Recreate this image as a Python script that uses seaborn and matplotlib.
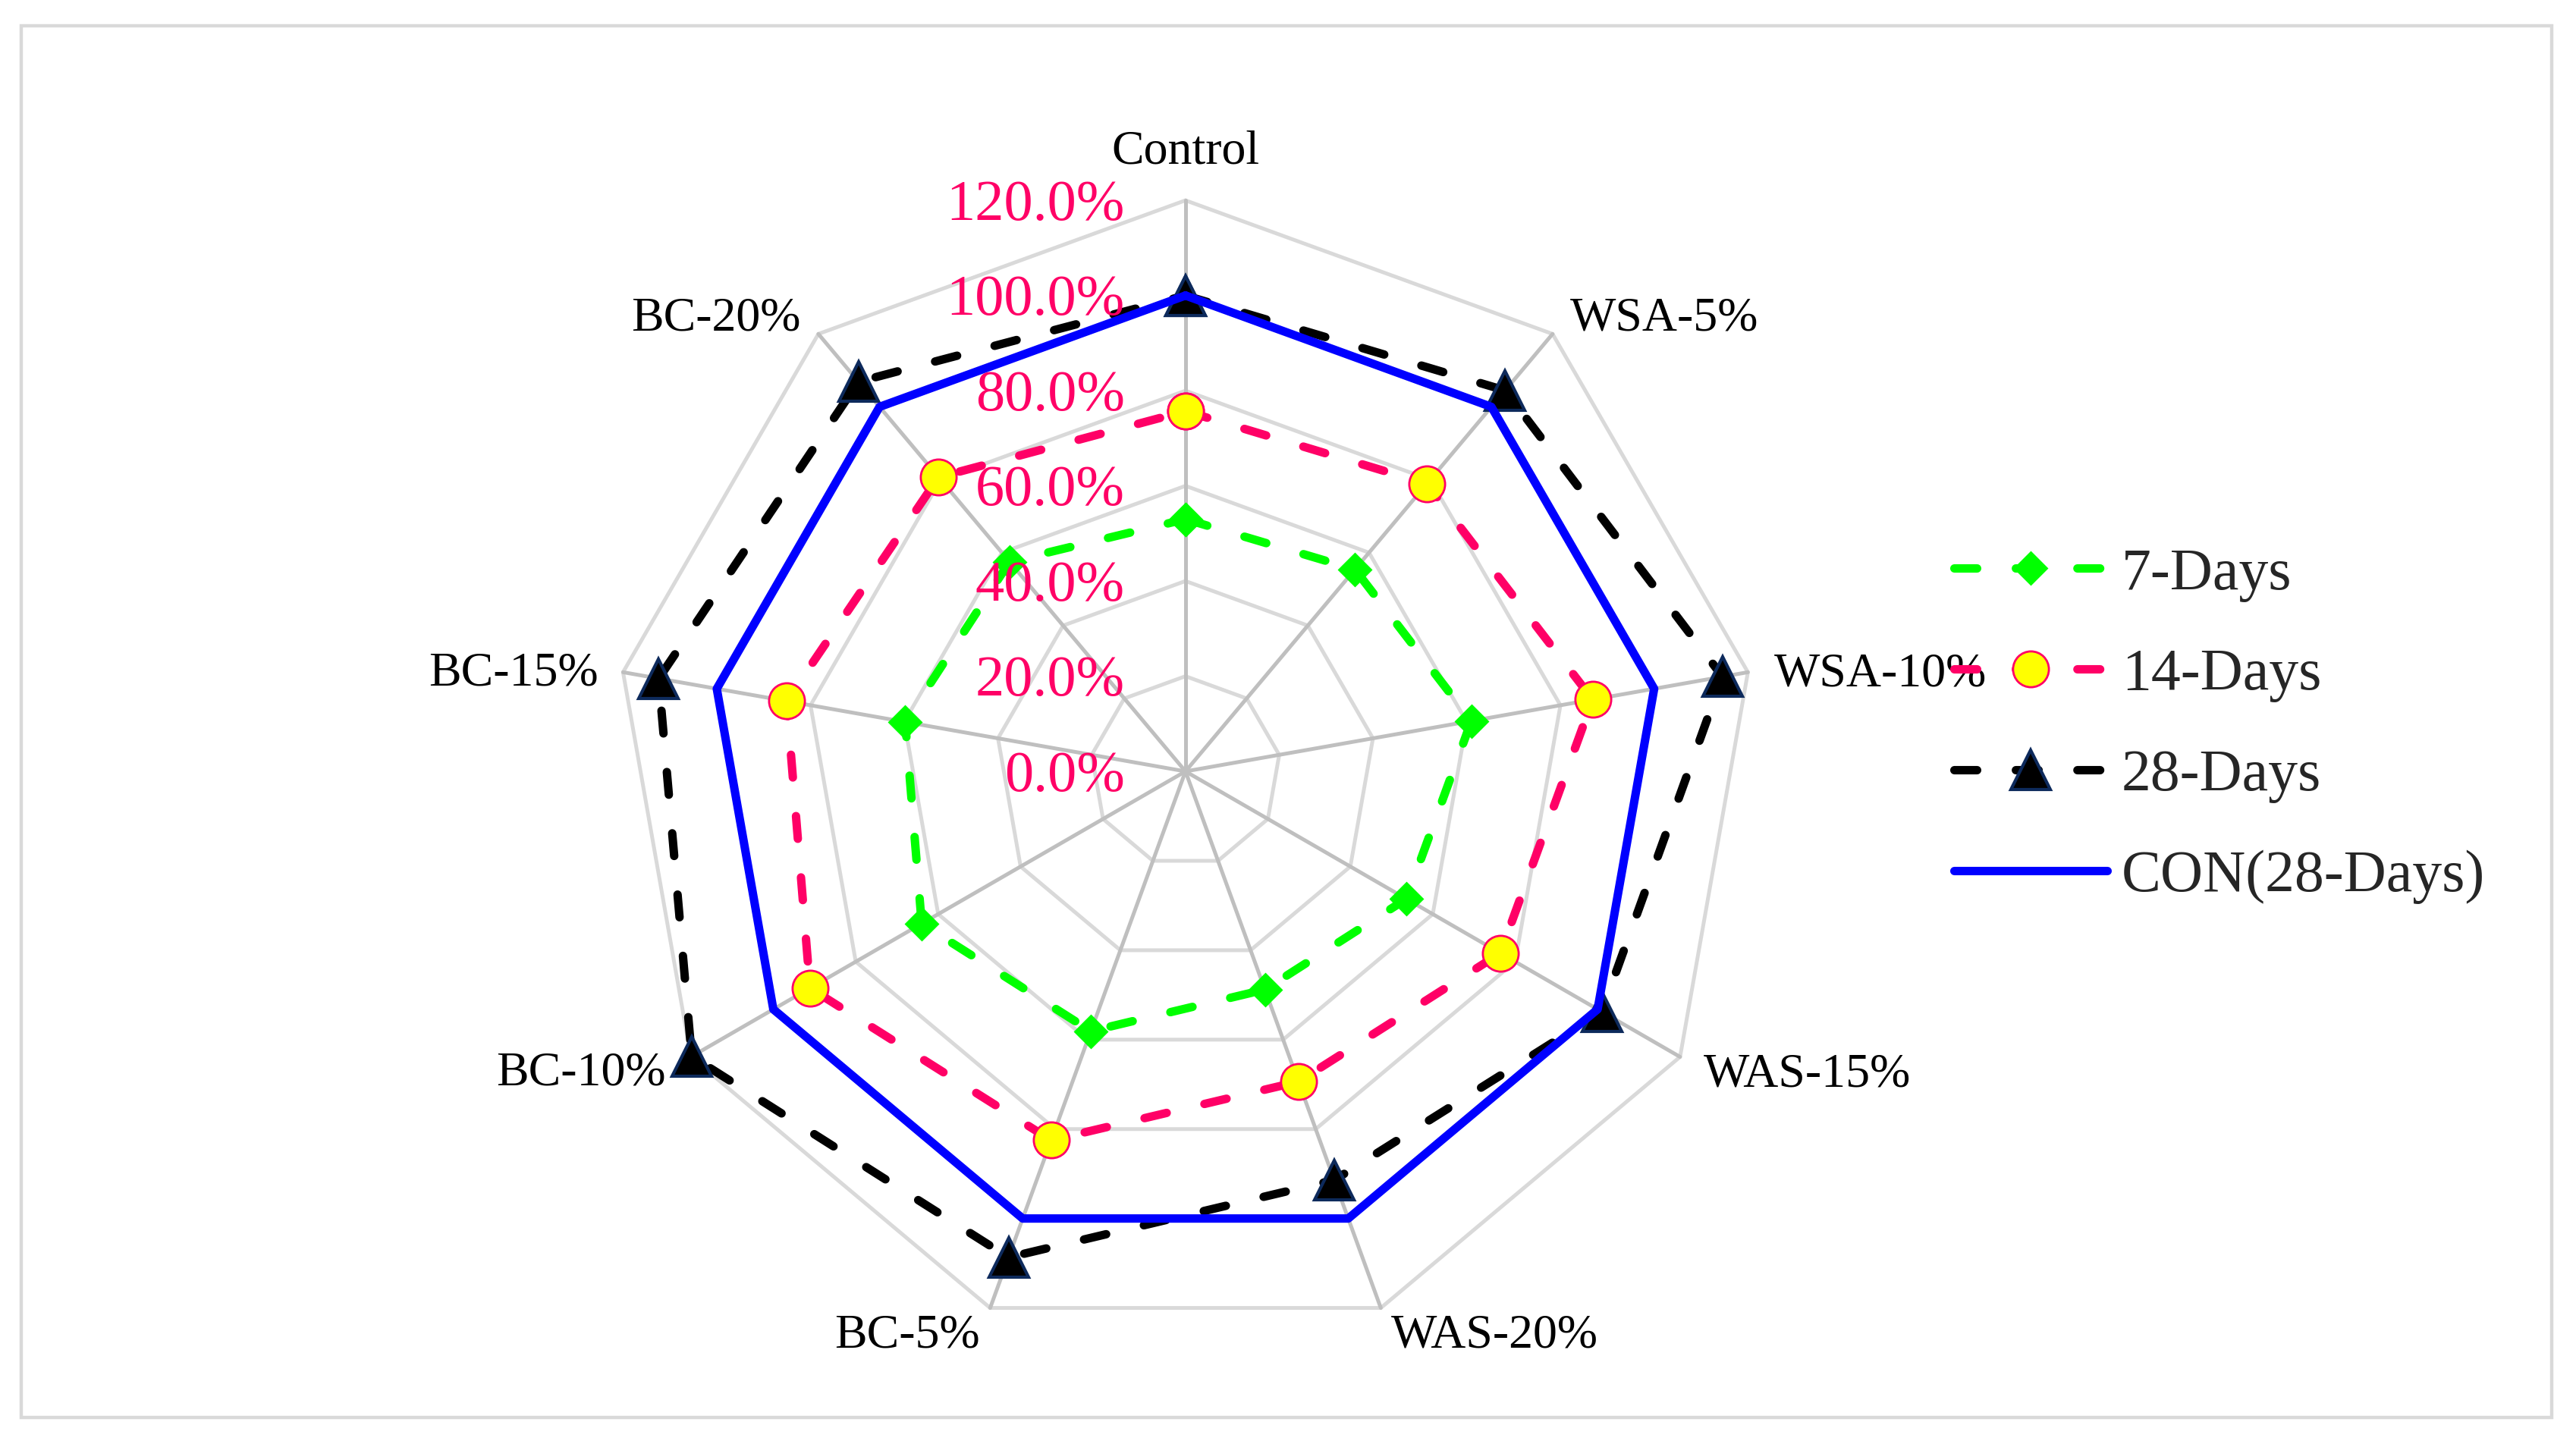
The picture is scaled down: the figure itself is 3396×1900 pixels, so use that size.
import numpy as np
import matplotlib
matplotlib.use('Agg')
import matplotlib.pyplot as plt
from matplotlib.patches import Rectangle
import seaborn as sns

# data (percent)
categories = ['Control', 'WSA-5%', 'WSA-10%', 'WAS-15%', 'WAS-20%',
              'BC-5%', 'BC-10%', 'BC-15%', 'BC-20%']
days7 = [53.0, 55.4, 61.0, 53.6, 48.8, 58.1, 64.0, 59.8, 57.5]
days14 = [75.7, 78.9, 86.9, 76.4, 69.4, 82.5, 91.1, 85.1, 80.7]
days28 = [100.0, 104.5, 114.6, 101.0, 91.4, 108.7, 119.8, 112.4, 106.9]
con28 = [100.0, 100.0, 100.0, 100.0, 100.0, 100.0, 100.0, 100.0, 100.0]
ticks = [0, 20, 40, 60, 80, 100, 120]
tick_labels = ['0.0%', '20.0%', '40.0%', '60.0%', '80.0%', '100.0%', '120.0%']

sns.set_theme(style='white')
plt.rcParams['font.family'] = ['Liberation Serif', 'DejaVu Serif']

PX = 72 / 200  # pixels -> points at dpi 200

fig = plt.figure(figsize=(16.98, 9.5), dpi=200)
ax = fig.add_axes([0.2385, 0.0684, 0.4434, 0.7926], projection='polar')
ax.set_theta_offset(np.pi / 2)
ax.set_theta_direction(-1)

n = len(categories)
angles = np.linspace(0, 2 * np.pi, n, endpoint=False)
closed = np.append(angles, 2 * np.pi)


def close(v):
    return list(v) + [v[0]]


# polygon web
for lvl in ticks[1:]:
    ax.plot(closed, [lvl] * (n + 1), color='#D9D9D9', lw=1.8, zorder=1, clip_on=False)
for a in angles:
    ax.plot([a, a], [0, 120], color='#BFBFBF', lw=1.8, zorder=1.5, clip_on=False)

dash = (0, (2.7, 4.6))
sns.lineplot(x=closed, y=close(days7), ax=ax, sort=False, estimator=None, legend=False,
             color='#00FF00', linewidth=4, linestyle=dash, dash_capstyle='round',
             marker='D', markersize=10.5, markerfacecolor='#00FF00',
             markeredgecolor='#00FF00', markeredgewidth=1, label='7-Days', clip_on=False)
sns.lineplot(x=closed, y=close(days14), ax=ax, sort=False, estimator=None, legend=False,
             color='#FF0066', linewidth=4, linestyle=dash, dash_capstyle='round',
             marker='o', markersize=17, markerfacecolor='#FFFF00',
             markeredgecolor='#FF0066', markeredgewidth=1, label='14-Days', clip_on=False)
sns.lineplot(x=closed, y=close(days28), ax=ax, sort=False, estimator=None, legend=False,
             color='black', linewidth=4, linestyle=dash, dash_capstyle='round',
             marker='^', markersize=19, markerfacecolor='black',
             markeredgecolor='#0D2A5C', markeredgewidth=1.5, label='28-Days', clip_on=False)
sns.lineplot(x=closed, y=close(con28), ax=ax, sort=False, estimator=None, legend=False,
             color='#0000FF', linewidth=4, label='CON(28-Days)', clip_on=False)

ax.set_ylim(0, 120)
ax.set_xticks([])
ax.set_yticks([])
ax.grid(False)
ax.spines['polar'].set_visible(False)
ax.set_xlabel('')
ax.set_ylabel('')

# radial tick labels along the Control spoke
for t, lab in zip(ticks, tick_labels):
    ax.annotate(lab, xy=(0, t), xytext=(-80 * PX, -7 * PX), textcoords='offset points',
                ha='right', va='center', color='#FF0066', fontsize=27.5,
                annotation_clip=False)

# category labels around the web
offsets = [(0, 64, 'center'), (23, 20, 'left'), (35, -3, 'left'), (31, -24, 'left'),
           (14, -37, 'left'), (-14, -37, 'right'), (-33, -22, 'right'),
           (-33, -2, 'right'), (-23, 20, 'right')]
for a, cat, (dx, dy, ha) in zip(angles, categories, offsets):
    ax.annotate(cat, xy=(a, 120), xytext=(dx * PX, dy * PX), textcoords='offset points',
                ha=ha, va='center', color='black', fontsize=23, annotation_clip=False)

handles, labels = ax.get_legend_handles_labels()
fig.legend(handles, labels, loc='upper left', bbox_to_anchor=(2576 / 3396, 1 - 722 / 1900),
           frameon=False, fontsize=28, handlelength=2.6, handletextpad=0.24,
           labelspacing=0.79, borderpad=0, borderaxespad=0)

fig.patches.append(Rectangle((28 / 3396, 1 - 1869 / 1900), 3336 / 3396, 1835 / 1900,
                             transform=fig.transFigure, fill=False,
                             edgecolor='#D9D9D9', lw=1.6))

fig.savefig('out.png', dpi=200)
